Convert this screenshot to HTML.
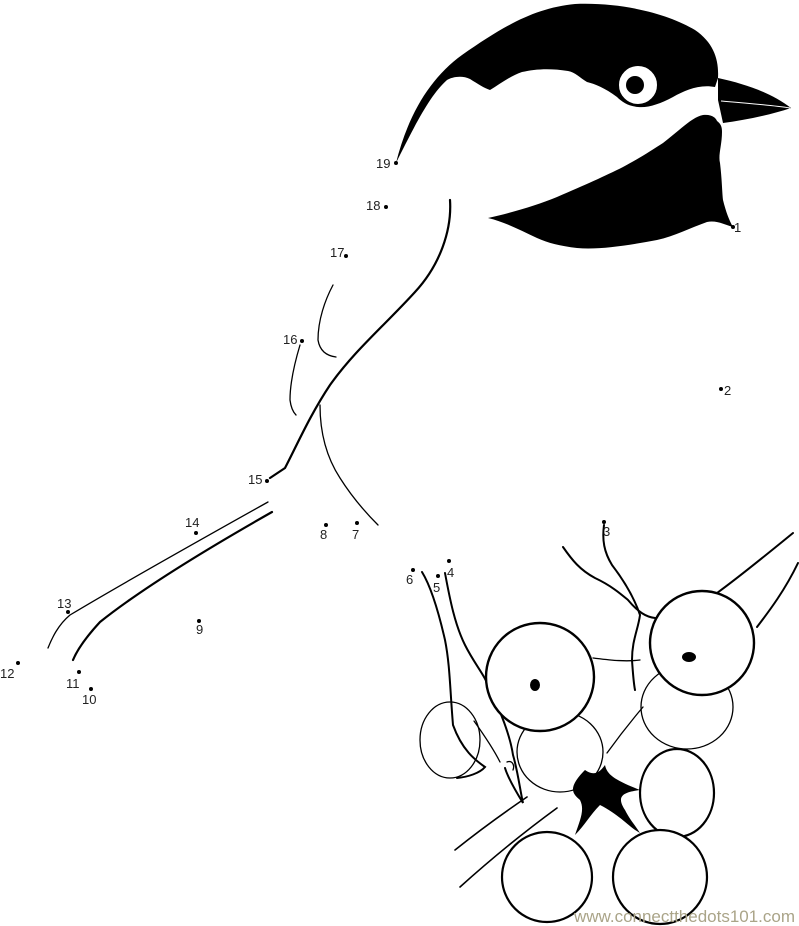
<!DOCTYPE html>
<html><head><meta charset="utf-8"><style>
html,body{margin:0;padding:0;background:#fff;}
svg{display:block;}
text{font-family:"Liberation Sans",sans-serif;font-size:13px;fill:#222;}
</style></head><body>
<svg width="799" height="926" viewBox="0 0 799 926" xmlns="http://www.w3.org/2000/svg">
<!-- cap -->
<path d="M396,163 C408,115 430,78 462,55 C505,25 535,8 575,4 C625,2 670,15 695,30 C714,43 719,60 718,78 L715,87 C700,84 685,90 673,97 C660,104 648,108 638,107 C628,106 622,102 617,97 C605,88 595,84 587,82 C580,78 575,72 568,71 C550,68 535,69 522,72 C510,76 500,84 490,90 C484,88 478,84 470,79 C462,75 452,77 447,80 C430,95 415,125 396,163 Z" fill="#000"/>
<circle cx="638" cy="85" r="20" fill="#fff" stroke="#000" stroke-width="2"/>
<circle cx="635" cy="85" r="9" fill="#000"/>
<!-- beak -->
<path d="M718,78 C745,84 770,92 791,108 C770,115 745,120 723,123 L718,100 Z" fill="#000"/>
<path d="M721,101 C745,103 770,105 790,108" stroke="#fff" stroke-width="1" fill="none"/>
<!-- bib -->
<path d="M488,218 C515,212 537,205 557,197 C585,185 605,176 623,167 C640,158 652,150 663,143 C680,130 692,117 703,115 C712,114 716,118 717,121 C721,124 722,127 722,132 C722,145 718,155 720,163 C722,180 722,190 723,200 C726,212 729,220 733,227 C725,225 717,220 707,222 C690,228 675,236 657,240 C630,245 600,250 577,248 C560,246 548,243 537,238 C520,230 505,222 488,218 Z" fill="#000"/>
<!-- body lines -->
<g fill="none" stroke="#000" stroke-linecap="round">
<path d="M450,200 C452,230 440,265 415,292 C385,325 355,350 330,385 C310,415 297,445 285,468 L270,478" stroke-width="2.2"/>
<path d="M333,285 C325,300 318,320 318,340 C320,352 328,356 336,357" stroke-width="1.3"/>
<path d="M300,345 C294,365 290,385 290,400 C291,408 293,412 296,415" stroke-width="1.3"/>
<path d="M320,405 C320,430 325,455 340,478 C352,497 365,512 378,525" stroke-width="1.3"/>
<!-- tail -->
<path d="M268,502 C200,540 120,585 70,615 C58,625 52,638 48,648" stroke-width="1.3"/>
<path d="M272,512 C205,550 140,590 100,622 C88,635 78,648 73,660" stroke-width="2.2"/>
<!-- stems and branches -->
<path d="M604,525 C602,540 604,552 612,565 C625,582 635,600 640,615 C638,630 632,640 632,660 C633,675 634,685 635,690" stroke-width="2"/>
<path d="M563,547 C572,560 580,570 595,578 C612,586 622,595 628,600 C638,612 646,617 655,618" stroke-width="2"/>
<path d="M717,593 C735,580 760,560 793,533" stroke-width="2"/>
<path d="M757,627 C770,610 785,590 798,563" stroke-width="2"/>
<path d="M593,658 C610,660 625,662 640,660" stroke-width="1.3"/>
<path d="M455,850 C480,830 505,812 527,797" stroke-width="1.6"/>
<path d="M460,887 C490,860 520,835 557,808" stroke-width="1.6"/>
<path d="M607,753 C620,735 632,720 643,707" stroke-width="1.3"/>
<!-- foot -->
<path d="M422,572 C430,585 437,605 445,640 C450,665 450,690 453,725 C462,750 475,760 485,767 C480,773 468,777 457,778" stroke-width="2"/>
<path d="M445,573 C450,600 455,625 465,645 C475,665 485,675 490,690 C500,710 510,735 513,755 C518,772 520,790 523,803 C515,790 508,778 505,768" stroke-width="2"/>
<path d="M474,721 C484,735 493,748 500,762" stroke-width="1.3"/>
<path d="M507,762 C512,760 515,765 513,770" stroke-width="1.3"/>
<!-- berries -->
<ellipse cx="450" cy="740" rx="30" ry="38" stroke-width="1.3"/>
<ellipse cx="687" cy="707" rx="46" ry="42" stroke-width="1.3"/>
<ellipse cx="560" cy="752" rx="43" ry="40" stroke-width="1.3"/>
<circle cx="540" cy="677" r="54" stroke-width="2.4" fill="#fff"/>
<circle cx="702" cy="643" r="52" stroke-width="2.4" fill="#fff"/>
<ellipse cx="677" cy="793" rx="37" ry="44" stroke-width="2.2" fill="#fff"/>
<circle cx="547" cy="877" r="45" stroke-width="2.2" fill="#fff"/>
<circle cx="660" cy="877" r="47" stroke-width="2.2" fill="#fff"/>
</g>
<ellipse cx="535" cy="685" rx="5" ry="6" fill="#000"/>
<ellipse cx="689" cy="657" rx="7" ry="5" fill="#000"/>
<path d="M585,770 C592,775 598,775 605,765 C607,775 615,780 640,790 C625,792 615,795 625,810 C630,820 635,825 640,833 C630,828 620,815 600,805 C590,815 585,825 575,835 C580,820 585,810 580,800 C575,795 565,790 585,770 Z" fill="#000"/>
<!-- dots -->
<g fill="#000">
<circle cx="396" cy="163" r="2"/><circle cx="386" cy="207" r="2"/><circle cx="346" cy="256" r="2"/>
<circle cx="302" cy="341" r="2"/><circle cx="267" cy="481" r="2"/><circle cx="196" cy="533" r="2"/>
<circle cx="68" cy="612" r="2"/><circle cx="18" cy="663" r="2"/><circle cx="79" cy="672" r="2"/>
<circle cx="91" cy="689" r="2"/><circle cx="199" cy="621" r="2"/><circle cx="326" cy="525" r="2"/>
<circle cx="357" cy="523" r="2"/><circle cx="413" cy="570" r="2"/><circle cx="438" cy="576" r="2"/>
<circle cx="449" cy="561" r="2"/><circle cx="604" cy="522" r="2"/><circle cx="721" cy="389" r="2"/>
<circle cx="733" cy="227" r="2"/>
</g>
<text x="376" y="168">19</text><text x="366" y="210">18</text><text x="330" y="257">17</text>
<text x="283" y="344">16</text><text x="248" y="484">15</text><text x="185" y="527">14</text>
<text x="57" y="608">13</text><text x="0" y="678">12</text><text x="66" y="688">11</text>
<text x="82" y="704">10</text><text x="196" y="634">9</text><text x="320" y="539">8</text>
<text x="352" y="539">7</text><text x="406" y="584">6</text><text x="433" y="592">5</text>
<text x="447" y="577">4</text><text x="603" y="536">3</text><text x="724" y="395">2</text>
<text x="734" y="232">1</text>
<text x="574" y="922" textLength="221" style="font-size:17px;fill:#aaa488;">www.connectthedots101.com</text>
</svg>
</body></html>
